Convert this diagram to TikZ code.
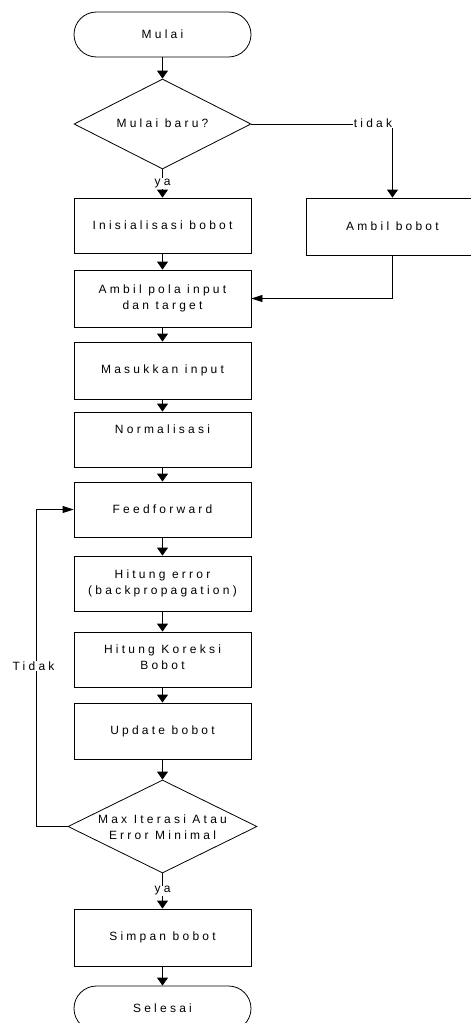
\documentclass[tikz,border=0pt]{standalone}
\usepackage{fontspec}
\setmainfont{Liberation Sans}[LetterSpace=27]
\usetikzlibrary{shapes.geometric,arrows.meta}
\begin{document}
\begin{tikzpicture}[x=1pt,y=-1pt, line width=0.8pt,
  font=\fontsize{12}{16}\selectfont,
  box/.style={draw, rectangle, minimum width=177pt, minimum height=56pt, inner sep=0pt, align=center, fill=white},
  term/.style={draw, rectangle, rounded corners=22.5pt, minimum width=177pt, minimum height=45pt, inner sep=0pt},
  dec/.style={draw, diamond, inner sep=0pt},
  arr/.style={-{Triangle[width=11pt,length=8pt]}},
  harr/.style={-{Triangle[width=7pt,length=11pt]}},
  lbl/.style={fill=white, inner sep=1pt}]
\useasboundingbox (0,0) rectangle (471,1023);
\clip (0,0) rectangle (471,1023);

\node[term] (start) at (162.5,34.5) {Mulai};
\node[dec, minimum width=177pt, minimum height=90pt] (d1) at (162.5,124) {};
\node (d1t) at (162.5,123) {Mulai baru?};
\node[box, minimum height=55pt] (ini) at (162.5,225.5) {Inisialisasi bobot};
\node[box, minimum width=173pt, minimum height=57pt] (ab) at (392.5,226.5) {Ambil bobot};
\node[box, minimum height=57pt] (pola) at (162.5,298.5) {Ambil pola input\\dan target};
\node[box, minimum height=57pt] (mi) at (162.5,370.5) {Masukkan input};
\node[box, minimum height=55pt] (norm) at (162.5,439.5) {};
\node (normt) at (162.5,429) {Normalisasi};
\node[box, minimum height=55pt] (ff) at (162.5,509.5) {Feedforward};
\node[box, minimum height=55pt] (err) at (162.5,583.5) {Hitung error\\(backpropagation)};
\node[box, minimum height=55pt] (kor) at (162.5,659.5) {};
\node[align=center] (kort) at (162.5,657) {Hitung Koreksi\\Bobot};
\node[box, minimum height=56pt] (upd) at (162.5,731) {Update bobot};
\node[dec, minimum width=189pt, minimum height=93pt] (d2) at (162.5,826.5) {};
\node[align=center] (d2t) at (162.5,827.5) {Max Iterasi Atau\\Error Minimal};
\node[box, minimum height=57pt] (sim) at (162.5,937.5) {Simpan bobot};
\node[term] (end) at (162.5,1008.5) {Selesai};

\draw[arr] (start.south) -- (d1.north);
\draw[arr] (d1.south) -- node[lbl] {ya} (ini.north);
\coordinate (c1) at (ab.north |- d1.east);
\draw[arr] (d1.east) -- (c1) -- (ab.north);
\node[lbl] (tidak) at (373,123) {tidak};
\draw[arr] (ini.south) -- (pola.north);
\draw[harr] (ab.south) |- (pola.east);
\draw[arr] (pola.south) -- (mi.north);
\draw[arr] (mi.south) -- (norm.north);
\draw[arr] (norm.south) -- (ff.north);
\draw[arr] (ff.south) -- (err.north);
\draw[arr] (err.south) -- (kor.north);
\draw[arr] (kor.south) -- (upd.north);
\draw[arr] (upd.south) -- (d2.north);
\coordinate (c2) at (36,826.5);
\draw[harr] (d2.west) -- (c2) |- (ff.west);
\node[lbl] (tdk) at (33.5,666) {Tidak};
\draw[arr] (d2.south) -- node[lbl] {ya} (sim.north);
\draw[arr] (sim.south) -- (end.north);
\end{tikzpicture}
\end{document}
